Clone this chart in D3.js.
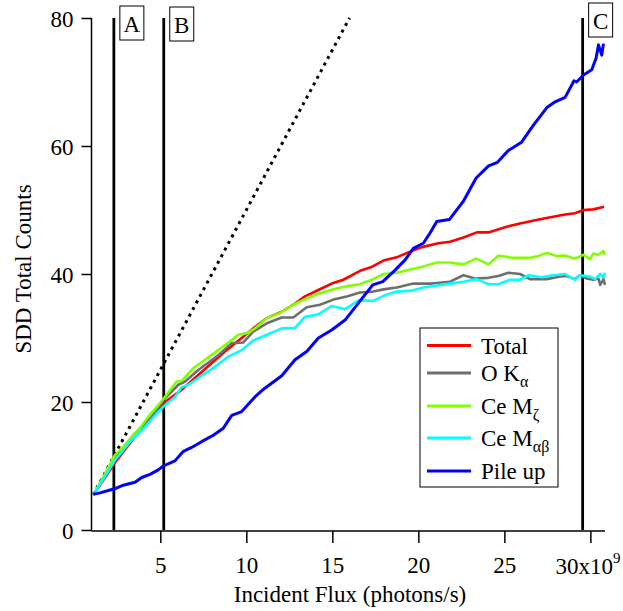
<!DOCTYPE html>
<html>
<head>
<meta charset="utf-8">
<script src="https://cdn.jsdelivr.net/npm/d3@7"></script>
<style>
  html, body { margin: 0; padding: 0; background: #fff; }
  svg { display: block; }
  svg text { font-family: "Liberation Serif", "Times New Roman", Times, "DejaVu Serif", "Noto Serif", serif !important; fill: #000; }
</style>
</head>
<body>
<svg id="chart" width="623" height="611"></svg>
<script>
// ---------- data (x in 1e9 photons/s, y in counts) ----------
const totalData = [[1.12,5.5],[2.33,10.4],[3.53,14.6],[4.5,17.45],[5.17,19.8],[6.24,21.9],[7.4,24.7],[8.76,27.9],[9.73,30.0],[10.4,31.5],[11.19,33.1],[12.06,34.1],[12.73,35.2],[13.41,36.5],[14.19,37.5],[14.96,38.5],[15.64,39.1],[16.61,40.5],[17.29,41.1],[17.97,42.1],[18.74,42.6],[19.52,43.5],[20.2,44.2],[21.16,44.8],[21.84,45.05],[22.62,45.7],[23.4,46.5],[24.07,46.5],[25.14,47.4],[25.91,47.9],[26.79,48.4],[27.76,48.9],[28.53,49.3],[29.1,49.5],[29.6,50.0],[30.17,50.1],[30.8,50.5]];
const oKaData = [[1.12,5.5],[2.33,11.2],[3.53,15.1],[4.5,17.7],[5.17,20.3],[6.05,22.7],[6.44,23.2],[7.21,25.0],[8.37,27.3],[9.15,29.2],[9.83,29.3],[10.4,31.0],[11.19,32.3],[12.06,33.2],[12.73,33.2],[13.51,34.8],[14.28,35.2],[15.06,36.0],[15.84,36.5],[16.61,37.1],[17.38,37.25],[17.97,37.6],[18.74,37.9],[19.71,38.5],[20.68,38.5],[21.07,38.6],[21.84,38.8],[22.62,39.8],[23.3,39.3],[24.07,39.4],[24.65,39.7],[25.23,40.2],[25.91,40.0],[26.49,39.2],[27.47,39.2],[28.24,39.6],[28.63,39.7],[29.1,39.2],[29.4,39.8],[29.79,39.3],[30.17,39.1],[30.47,39.3],[30.57,38.3],[30.76,39.2],[30.85,38.3]];
const ceMzData = [[1.12,5.5],[2.36,11.7],[2.95,13.3],[3.72,15.6],[4.3,17.7],[4.88,19.5],[5.27,20.8],[5.95,23.2],[6.24,23.3],[6.92,25.3],[7.6,26.6],[8.37,28.1],[9.15,29.7],[9.53,30.5],[10.1,30.8],[10.5,31.5],[11.19,33.1],[11.96,33.9],[12.73,35.2],[13.51,36.2],[14.28,37.0],[15.06,37.6],[15.84,38.1],[16.61,38.4],[17.38,39.2],[17.97,40.0],[18.74,40.2],[19.52,40.7],[20.2,41.1],[21.07,41.8],[21.84,41.8],[22.62,41.5],[23.36,42.4],[24.08,41.5],[24.65,42.9],[25.43,42.55],[26.49,42.55],[26.98,42.8],[27.47,43.3],[28.05,42.8],[28.53,42.9],[29.1,42.4],[29.6,43.0],[29.98,42.3],[30.17,43.2],[30.47,43.0],[30.76,43.6],[30.85,43.0]];
const ceMabData = [[1.12,5.5],[2.36,10.9],[3.34,14.1],[4.11,16.1],[4.79,18.2],[5.27,19.5],[5.85,20.8],[6.24,22.3],[6.63,22.7],[7.4,24.1],[8.18,25.5],[8.96,27.1],[9.73,28.1],[10.4,29.6],[11.19,30.5],[12.06,31.5],[12.83,31.6],[13.41,33.3],[14.19,33.7],[14.96,35.0],[15.74,34.5],[16.53,35.9],[17.38,35.8],[18.06,36.7],[18.74,37.25],[19.61,37.4],[20.29,37.9],[21.07,38.2],[21.84,38.5],[22.62,38.8],[23.4,39.2],[24.07,38.4],[24.65,38.4],[25.33,39.1],[25.91,39.1],[26.4,39.8],[27.17,39.5],[27.85,39.8],[28.53,40.0],[29.1,39.1],[29.4,39.8],[29.98,39.6],[30.27,39.2],[30.57,40.0],[30.76,39.5],[30.85,40.2]];
const pileUpData = [[1.1,5.6],[1.5,5.8],[2.08,6.25],[2.37,6.45],[2.85,7.0],[3.53,7.45],[3.92,8.2],[4.4,8.7],[4.88,9.4],[5.17,10.0],[5.85,10.8],[6.34,12.3],[6.82,12.9],[7.4,13.8],[8.08,14.8],[8.66,15.9],[9.15,17.9],[9.73,18.5],[10.5,20.8],[11.0,22.0],[12.06,24.1],[12.83,26.6],[13.51,27.9],[14.19,30.0],[14.96,31.25],[15.74,32.8],[16.5,35.4],[17.35,38.3],[17.93,38.8],[18.65,40.6],[19.23,42.2],[19.71,44.0],[20.29,44.8],[20.68,46.4],[21.07,48.2],[21.8,48.5],[22.6,51.3],[23.36,55.0],[24.08,56.9],[24.6,57.45],[25.23,59.3],[26.0,60.6],[26.7,63.3],[27.47,66.0],[27.95,66.9],[28.53,67.6],[29.05,70.2],[29.2,70.0],[29.6,71.1],[30.08,71.9],[30.33,73.7],[30.47,75.8],[30.66,74.2],[30.76,76.0]];

const seriesNames  = ["Total", "O K", "Ce M", "Ce M", "Pile up"];
const seriesSubs   = ["", "α", "ζ", "αβ", ""];
const seriesColors = ["#ff0000", "#6e6e6e", "#80ff00", "#00ffff", "#0000ff"];
const seriesData   = [totalData, oKaData, ceMzData, ceMabData, pileUpData];

const dottedLineData = [[1.1, 5.5], [16, 80]];
const markerX = [2.3, 5.2, 29.55];
const markerLabels = ["A", "B", "C"];

const xTicks = [5, 10, 15, 20, 25, 30];
const yTicks = [0, 20, 40, 60, 80];

// ---------- layout ----------
const FONT = "'Liberation Serif', 'Times New Roman', Times, 'DejaVu Serif', serif";
const svg = d3.select("#chart");
const x = d3.scaleLinear().domain([1, 30.85]).range([91.5, 605]);
const y = d3.scaleLinear().domain([0, 80]).range([530, 18]);
const xAxisY = 531;

// axes
const yAxis = d3.axisLeft(y).tickValues(yTicks).tickSize(10).tickSizeOuter(0).tickPadding(8);
const gy = svg.append("g").attr("transform", `translate(${x.range()[0]},0)`).call(yAxis)
  .attr("font-family", FONT).attr("font-size", 23);
gy.select(".domain").attr("d", `M0,${y(80)}V${xAxisY}`).attr("stroke", "#000").attr("stroke-width", 1.5);
gy.selectAll(".tick line").attr("stroke", "#000").attr("stroke-width", 1.5);
gy.selectAll(".tick text").attr("dy", "0.35em");

const xAxis = d3.axisBottom(x).tickValues(xTicks).tickSize(12).tickSizeOuter(0).tickPadding(14)
  .tickFormat(d => d === 30 ? "" : d);
const gx = svg.append("g").attr("transform", `translate(0,${xAxisY})`).call(xAxis)
  .attr("font-family", FONT).attr("font-size", 23);
gx.select(".domain").attr("d", `M${x.range()[0]},0H${x.range()[1]}`).attr("stroke", "#000").attr("stroke-width", 1.5);
gx.selectAll(".tick line").attr("stroke", "#000").attr("stroke-width", 1.5);

// last tick label "30x10^9"
const lastLbl = svg.append("text").attr("x", x(30) - 35).attr("y", 574)
  .attr("font-size", 23).attr("text-anchor", "start");
lastLbl.append("tspan").text("30x10");
lastLbl.append("tspan").attr("font-size", 15).attr("dy", -11).text("9");

// axis titles
svg.append("text").attr("x", 350).attr("y", 602).attr("text-anchor", "middle")
  .attr("font-size", 23).text("Incident Flux (photons/s)");
svg.append("text").attr("transform", "translate(31,269) rotate(-90)").attr("text-anchor", "middle")
  .attr("font-size", 23).text("SDD Total Counts");

// marker vertical lines
svg.selectAll(".marker").data(markerX).enter().append("line")
  .attr("x1", d => x(d)).attr("x2", d => x(d))
  .attr("y1", y(80)).attr("y2", y(0))
  .attr("stroke", "#000").attr("stroke-width", 2.8);

// marker label boxes
const mb = svg.selectAll(".mbox").data(markerX).enter().append("g");
mb.append("rect")
  .attr("x", d => x(d) + 6).attr("y", (d, i) => [6, 7, 3][i])
  .attr("width", 24).attr("height", 34)
  .attr("fill", "#fff").attr("stroke", "#000").attr("stroke-width", 1);
mb.append("text")
  .attr("x", d => x(d) + 18).attr("y", (d, i) => [6, 7, 3][i] + 26)
  .attr("text-anchor", "middle").attr("font-size", 23)
  .text((d, i) => markerLabels[i]);

// dotted line
const line = d3.line().x(d => x(d[0])).y(d => y(d[1]));
svg.append("path").datum(dottedLineData).attr("d", line)
  .attr("fill", "none").attr("stroke", "#000").attr("stroke-width", 3)
  .attr("stroke-dasharray", "3,4.5");

// series
seriesData.forEach((data, i) => {
  svg.append("path").datum(data).attr("d", line)
    .attr("fill", "none").attr("stroke", seriesColors[i])
    .attr("stroke-width", i === 4 ? 3 : 2.6)
    .attr("stroke-linejoin", "round").attr("stroke-linecap", "butt");
});

// legend
const legX = 420, legY = 328, legW = 138, legH = 159;
svg.append("rect").attr("x", legX).attr("y", legY).attr("width", legW).attr("height", legH)
  .attr("fill", "#fff").attr("stroke", "#000").attr("stroke-width", 1);
const rowY = [345.5, 373, 406, 438, 471];
seriesNames.forEach((name, i) => {
  svg.append("line").attr("x1", legX + 7).attr("x2", legX + 51)
    .attr("y1", rowY[i]).attr("y2", rowY[i])
    .attr("stroke", seriesColors[i]).attr("stroke-width", 3);
  const t = svg.append("text").attr("x", legX + 61).attr("y", rowY[i] + 8).attr("font-size", 23);
  t.append("tspan").text(name);
  if (seriesSubs[i]) t.append("tspan").attr("font-size", 16).attr("dy", 6).text(seriesSubs[i]);
});

svg.selectAll("text").attr("font-family", FONT).style("font-family", FONT);
</script>
</body>
</html>
